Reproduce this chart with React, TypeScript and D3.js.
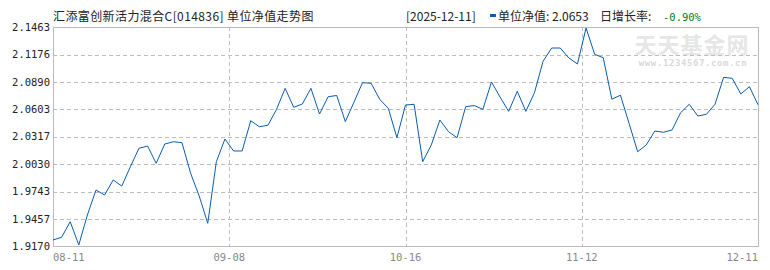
import React from "react";
import * as d3 from "d3";

const title = "汇添富创新活力混合C[014836] 单位净值走势图";
const headerDate = "[2025-12-11]";
const headerNavLabel = "单位净值: 2.0653";
const headerRateLabel = "日增长率:";
const headerRate = "-0.90%";

const yTicks = [1.917, 1.9457, 1.9743, 2.003, 2.0317, 2.0603, 2.089, 2.1176, 2.1463];
const yTickLabels = ["1.9170", "1.9457", "1.9743", "2.0030", "2.0317", "2.0603", "2.0890", "2.1176", "2.1463"];
const xTickLabels = ["08-11", "09-08", "10-16", "11-12", "12-11"];

const nav = [
  1.9236, 1.9264, 1.9428, 1.9184, 1.9498, 1.9759, 1.9707, 1.9864, 1.9801, 2.0003,
  2.0196, 2.022, 2.0039, 2.0241, 2.0265, 2.0255, 1.9937, 1.9697, 1.9411, 2.0056,
  2.0293, 2.0168, 2.0168, 2.0485, 2.0422, 2.0437, 2.0604, 2.0824, 2.0625, 2.066,
  2.0824, 2.0555, 2.0736, 2.0749, 2.0475, 2.0678, 2.0883, 2.0877, 2.0709, 2.0615,
  2.0307, 2.0649, 2.0657, 2.0056, 2.0231, 2.0492, 2.037, 2.0307, 2.0632, 2.0644,
  2.0604, 2.089, 2.0733, 2.0583, 2.0793, 2.0583, 2.0778, 2.1107, 2.1246, 2.1246,
  2.1142, 2.1079, 2.1456, 2.118, 2.1145, 2.071, 2.0752, 2.0458, 2.016, 2.0231,
  2.0377, 2.0364, 2.0388, 2.0569, 2.0657, 2.0534, 2.0552, 2.0657, 2.0939, 2.0929,
  2.0765, 2.0841, 2.0653,
];

const W = 770;
const H = 270;
const L = 53;
const R = 758;
const T = 27.3;
const B = 246.3;

export default function App() {
  const x = d3.scaleLinear().domain([0, nav.length - 1]).range([L, R]);
  const y = d3.scaleLinear().domain([yTicks[0], yTicks[yTicks.length - 1]]).range([B, T]);
  const line = d3
    .line<number>()
    .x((_, i) => x(i))
    .y((d) => y(d));
  const xq = xTickLabels.map((_, i) => x(((nav.length - 1) * i) / (xTickLabels.length - 1)));
  const grid = "#bdbdbd";
  const mono = "'DejaVu Sans Mono', 'Liberation Mono', monospace";
  const cjk = "'Noto Sans CJK SC', 'Noto Sans', sans-serif";
  return (
    <svg
      width={W}
      height={H}
      style={{ position: "absolute", left: 0, top: 0, background: "#fff" }}
      shapeRendering="crispEdges"
    >
      {/* watermark */}
      <text x={692} y={53} textAnchor="middle" fontFamily={cjk} fontSize={22} fontWeight="bold" fill="#e6e6e6" letterSpacing={1}>
        天天基金网
      </text>
      <text x={693} y={66} textAnchor="middle" fontFamily={mono} fontSize={9} fontWeight="bold" fill="#d9d9d9" letterSpacing={0.6}>
        www.1234567.com.cn
      </text>

      {/* horizontal grid */}
      {yTicks.slice(1, -1).map((t) => (
        <line key={t} x1={L} x2={R} y1={Math.round(y(t)) + 0.5} y2={Math.round(y(t)) + 0.5} stroke={grid} strokeDasharray="4,3" />
      ))}
      {/* vertical grid */}
      {xq.slice(1, -1).map((px, i) => (
        <line key={i} x1={Math.round(px) + 0.5} x2={Math.round(px) + 0.5} y1={T} y2={B} stroke={grid} strokeDasharray="4,3" />
      ))}
      {/* frame */}
      <rect x={L + 0.5} y={Math.round(T) + 0.5} width={R - L} height={Math.round(B) - Math.round(T)} fill="none" stroke="#bbbbbb" />

      {/* line */}
      <path d={line(nav) || ""} fill="none" stroke="#0a5cb0" strokeWidth={1} shapeRendering="auto" />

      {/* y labels */}
      {yTicks.map((t, i) => (
        <text key={t} x={50} y={y(t)} dy="0.35em" textAnchor="end" fontFamily={mono} fontSize={10.5} fill="#222">
          {yTickLabels[i]}
        </text>
      ))}
      {/* x labels */}
      {xTickLabels.map((lab, i) => (
        <text
          key={lab}
          x={xq[i]}
          y={261}
          textAnchor={i === 0 ? "start" : i === xTickLabels.length - 1 ? "end" : "middle"}
          fontFamily={mono}
          fontSize={10.5}
          fill="#888"
        >
          {lab}
        </text>
      ))}

      {/* header */}
      <text x={53} y={21} fontFamily={cjk} fontSize={12} fill="#222" letterSpacing={0.4}>
        {title}
      </text>
      <text x={406} y={21} fontFamily={cjk} fontSize={12} fill="#222">
        {headerDate}
      </text>
      <rect x={490} y={14} width={6} height={3} fill="#0a5cb0" />
      <text x={498} y={21} fontFamily={cjk} fontSize={12} fill="#222">
        {headerNavLabel}
      </text>
      <text x={600} y={21} fontFamily={cjk} fontSize={12} fill="#222">
        {headerRateLabel}
      </text>
      <text x={663} y={21} fontFamily={mono} fontSize={10.5} fill="#007a1e">
        {headerRate}
      </text>
    </svg>
  );
}
